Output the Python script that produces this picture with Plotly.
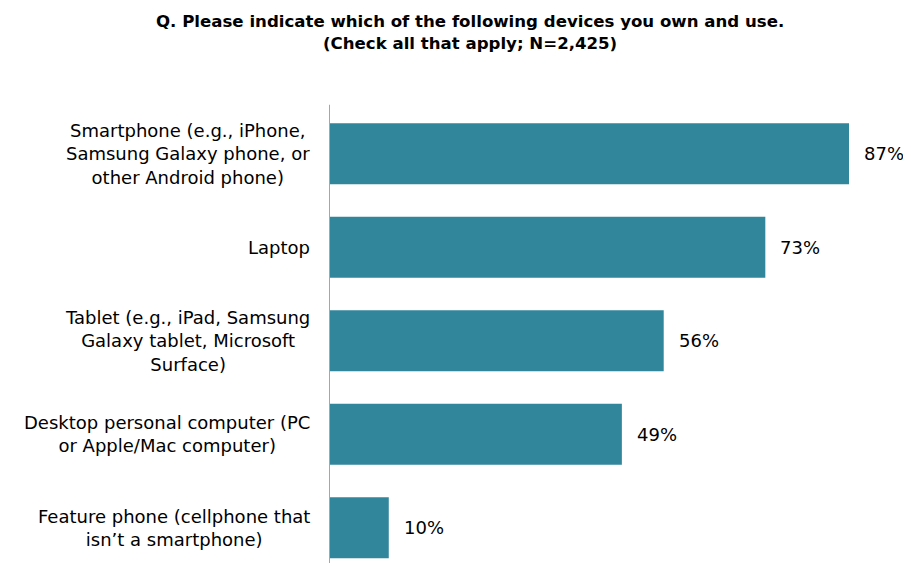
import plotly.graph_objects as go

categories = [
    "Smartphone (e.g., iPhone,<br>Samsung Galaxy phone, or<br>other Android phone)",
    "Laptop",
    "Tablet (e.g., iPad, Samsung<br>Galaxy tablet, Microsoft<br>Surface)",
    "Desktop personal computer (PC<br>or Apple/Mac computer)",
    "Feature phone (cellphone that<br>isn\u2019t a smartphone)",
]
values = [87, 73, 56, 49, 10]
value_labels = ["87%", "73%", "56%", "49%", "10%"]

FONT = "DejaVu Sans, Liberation Sans, Arial, sans-serif"
BAR = "#31869B"

# page body has an 8px margin on every side; keep the figure inside the window
W, H = 895, 555
L, T = 321, 99
PW = W - L
PX_PER_PCT = 520 / 87.0
PX_PER_CAT = 93.5

fig = go.Figure(go.Bar(
    x=values, y=list(range(len(categories))), orientation="h",
    marker=dict(color=BAR, line=dict(width=0)),
    width=0.65, hoverinfo="skip",
))

for i, (v, t) in enumerate(zip(values, value_labels)):
    fig.add_annotation(x=v, y=i, text=t, xanchor="left", yanchor="middle",
                       xshift=13, showarrow=False,
                       font=dict(family=FONT, size=18, color="#000"))

for i, c in enumerate(categories):
    fig.add_annotation(x=0, y=i, xref="paper", text=c, xanchor="right",
                       yanchor="middle", align="center", xshift=-17,
                       showarrow=False,
                       font=dict(family=FONT, size=18, color="#000"))

fig.add_annotation(
    text="<b>Q. Please indicate which of the following devices you own and use.</b><br><b>(Check all that apply; N=2,425)</b>",
    xref="paper", yref="paper", x=(462 - L) / PW, y=1,
    yshift=97, xanchor="center", yanchor="top", align="center", showarrow=False,
    font=dict(family=FONT, size=16.6, color="#000"),
)

fig.update_layout(
    width=W, height=H,
    margin=dict(l=L, r=0, t=T, b=0),
    paper_bgcolor="white", plot_bgcolor="white",
    showlegend=False,
    xaxis=dict(range=[0, PW / PX_PER_PCT], visible=False, fixedrange=True),
    yaxis=dict(range=[(H - T) / PX_PER_CAT - 0.5, -0.5], showticklabels=False,
               showgrid=False, zeroline=False, showline=False, ticks=""),
    shapes=[dict(type="line", xref="x", yref="paper", x0=0, x1=0, y0=0, y1=1.005,
                 line=dict(color="#A6A6A6", width=2))],
)

fig.write_html("out.html")
